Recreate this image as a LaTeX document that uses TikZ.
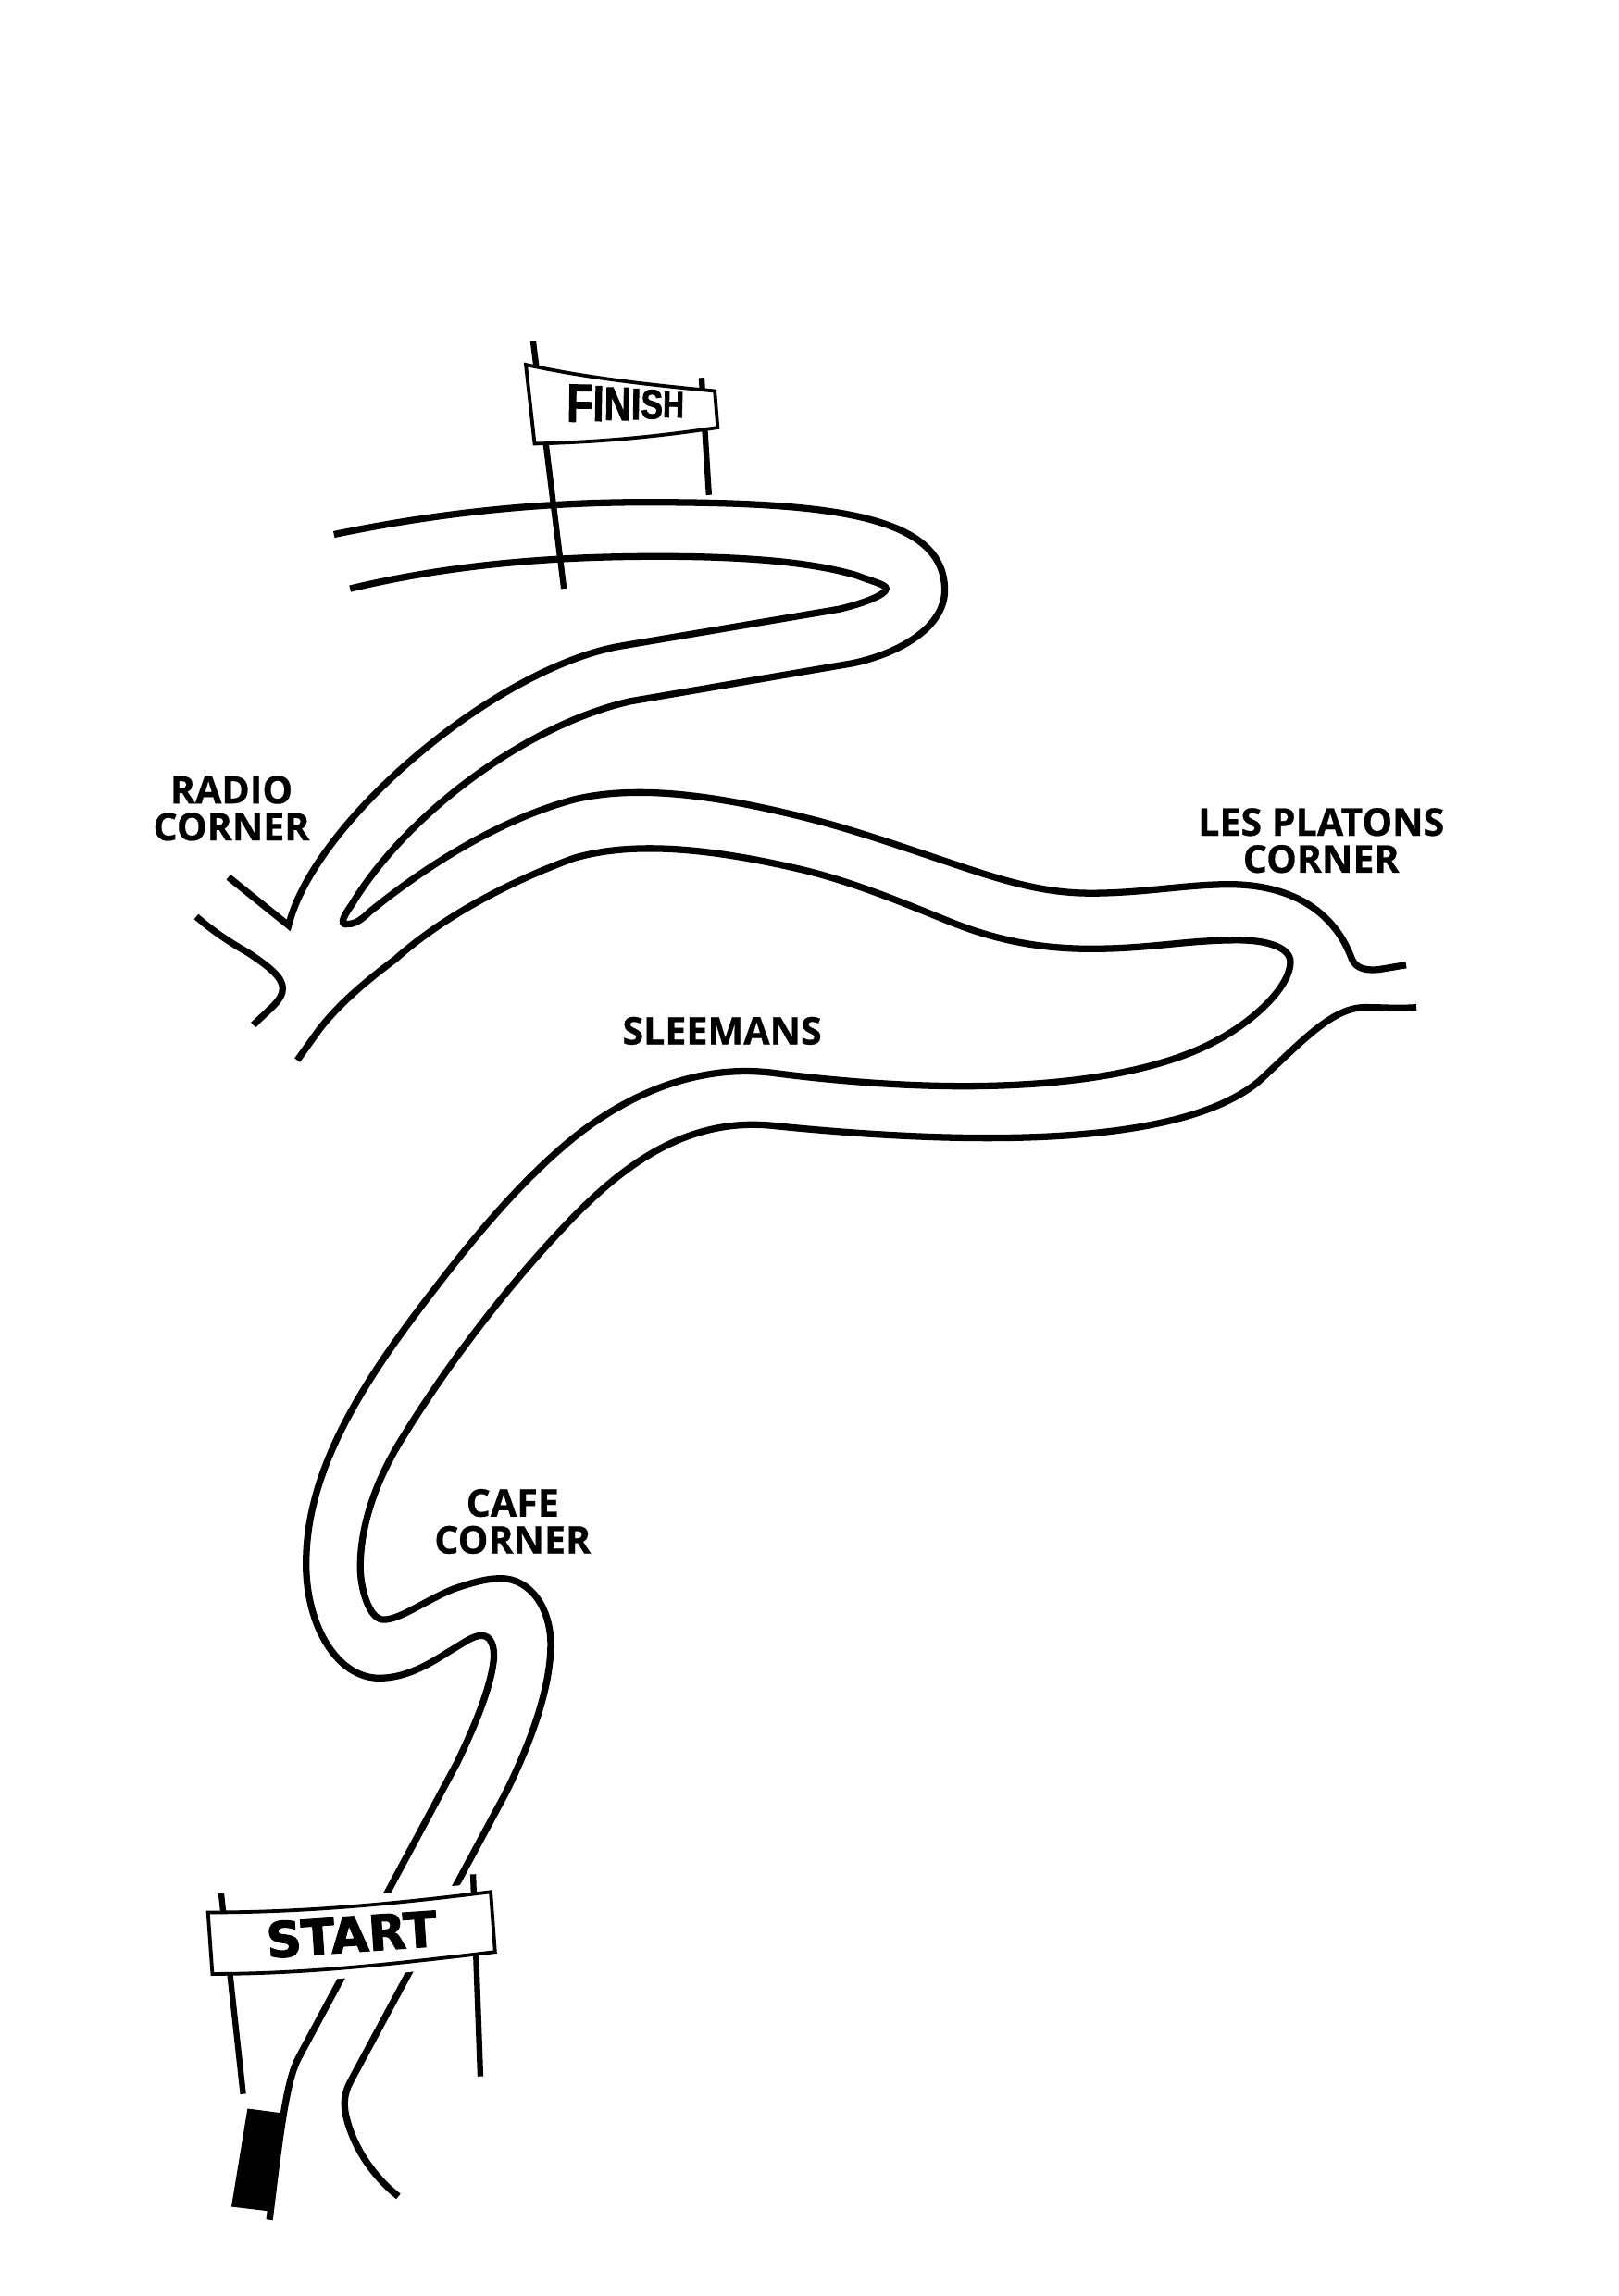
\documentclass[tikz,border=0pt]{standalone}
\usepackage{fontspec}
\newfontfamily\cornerfont[BoldFeatures={FakeBold=0.6}]{Open Sans}
\newfontfamily\startfont[BoldFeatures={FakeBold=2.4}]{DejaVu Sans}
\newfontfamily\finishfont[BoldFeatures={FakeBold=2.2}]{Liberation Sans}
\newcommand{\finishletter}[2]{\raisebox{-0.36\dimexpr#1pt\relax}{\fontsize{#1}{#1}\selectfont #2}}
\tikzset{
  trackline/.style={line width=2.3pt},
  postline/.style={line width=2pt},
  bannerline/.style={draw, fill=white, line width=1.2pt},
  cornerlabel/.style={align=center, inner sep=0pt, font=\cornerfont\bfseries\fontsize{13}{12.6}\selectfont}
}
\begin{document}
\begin{tikzpicture}[x=0.5pt,y=-0.5pt]
\useasboundingbox (0,0) rectangle (1105,1568);
% Strecke oben
\draw[trackline] (228,365) .. controls (300,350) and (370,343) .. (440,343)
  .. controls (560,343) and (645,350) .. (645,403)
  .. controls (645,428) and (615,446) .. (582,453) -- (430,479)
  .. controls (360,495) and (278,555) .. (240,618)
  .. controls (233,628) and (232,632) .. (238,631)
  .. controls (243,631) and (248,627) .. (252,623)
  .. controls (290,592) and (340,560) .. (392,546)
  .. controls (430,537) and (480,540) .. (560,561)
  .. controls (590,569) and (630,583) .. (657,592)
  .. controls (690,603) and (715,610) .. (745,610)
  .. controls (780,610) and (810,604) .. (839,604)
  .. controls (885,604) and (912,625) .. (923,655)
  .. controls (926,662) and (934,663) .. (942,662)
  .. controls (948,661) and (954,660) .. (960,659);
\draw[trackline] (239,402) .. controls (310,385) and (380,380) .. (450,380)
  .. controls (510,380) and (555,384) .. (585,393)
  .. controls (595,397) and (605,399) .. (605,402)
  .. controls (605,406) and (590,412) .. (573,416) -- (425,441)
  .. controls (340,455) and (215,560) .. (197,632) -- (156,599);
% Strecke Mitte
\draw[trackline] (203,724) -- (218,703)
  .. controls (232,685) and (250,670) .. (270,655)
  .. controls (300,628) and (345,603) .. (392,586)
  .. controls (430,575) and (480,578) .. (548,594)
  .. controls (585,603) and (620,618) .. (650,630)
  .. controls (680,642) and (710,648) .. (745,648)
  .. controls (785,648) and (810,642) .. (845,642)
  .. controls (865,642) and (881,647) .. (881,657)
  .. controls (881,672) and (860,695) .. (830,711)
  .. controls (780,738) and (680,752) .. (530,733)
  .. controls (480,726) and (430,745) .. (388,780)
  .. controls (350,812) and (318,852) .. (287,893)
  .. controls (240,955) and (209,1010) .. (209,1068)
  .. controls (209,1110) and (230,1146) .. (259,1146)
  .. controls (280,1146) and (298,1133) .. (308,1127)
  .. controls (318,1121) and (323,1117) .. (329,1117)
  .. controls (335,1117) and (338,1124) .. (337,1134)
  .. controls (335,1152) and (325,1177) .. (312,1204) -- (204,1405)
  .. controls (196,1420) and (192,1450) .. (184,1516);
\draw[trackline] (967,688) .. controls (955,689) and (945,688) .. (932,688)
  .. controls (910,688) and (890,710) .. (860,738)
  .. controls (820,772) and (720,788) .. (530,769)
  .. controls (470,762) and (425,795) .. (384,839)
  .. controls (350,875) and (310,925) .. (276,980)
  .. controls (258,1008) and (246,1040) .. (246,1070)
  .. controls (246,1085) and (252,1105) .. (261,1106)
  .. controls (272,1107) and (290,1093) .. (310,1085)
  .. controls (322,1081) and (332,1078) .. (342,1078)
  .. controls (362,1078) and (376,1098) .. (376,1123)
  .. controls (376,1155) and (360,1195) .. (345,1225) -- (239,1422)
  .. controls (235,1430) and (234,1437) .. (237,1448)
  .. controls (243,1470) and (257,1488) .. (272,1500);
% Abzweigung
\draw[trackline] (134,626) .. controls (148,638) and (158,644) .. (170,651) .. controls (185,661) and (193,668) .. (193,675)
  .. controls (193,683) and (185,688) .. (173,700);
% Schilder
\draw[line width=7pt, white] (142,1306) .. controls (210,1306) and (270,1300) .. (335,1292) -- (338,1333) .. controls (270,1341) and (210,1348) .. (145,1348) -- cycle;
\draw[postline] (151,1293) -- (166,1430);
\draw[postline] (323,1280) -- (328,1418);
\draw[bannerline] (142,1306) .. controls (210,1306) and (270,1300) .. (335,1292) -- (338,1333) .. controls (270,1341) and (210,1348) .. (145,1348) -- cycle;
\fill (169,1440) -- (192,1443) .. controls (188,1470) and (185,1490) .. (183,1510) -- (158,1507) -- cycle;
\draw[postline] (364,233) -- (385,402);
\draw[postline] (479,258) -- (484,338);
\draw[bannerline] (359,249) .. controls (400,258) and (445,263) .. (488,267) -- (490,292) .. controls (450,298) and (410,302) .. (365,303) -- cycle;
% Beschriftung
\node[inner sep=0pt, rotate=4] (startlabel) at (240,1321) {\startfont\bfseries\fontsize{16.6}{16.6}\selectfont START};
\node[inner sep=0pt, rotate=-1] (finishlabel) at (427,276) {\finishfont\bfseries\scalebox{0.8}[1]{\finishletter{18.3}{F}\finishletter{17.2}{I}\finishletter{16}{N}\finishletter{15}{I}\finishletter{14}{S}\finishletter{12.5}{H}}};
\node[cornerlabel] (radio) at (158,552) {RADIO\\CORNER};
\node[cornerlabel] (platons) at (902,574) {LES PLATONS\\CORNER};
\node[cornerlabel] (sleemans) at (493,704) {SLEEMANS};
\node[cornerlabel] (cafe) at (350,1039) {CAFE\\CORNER};
\end{tikzpicture}
\end{document}
